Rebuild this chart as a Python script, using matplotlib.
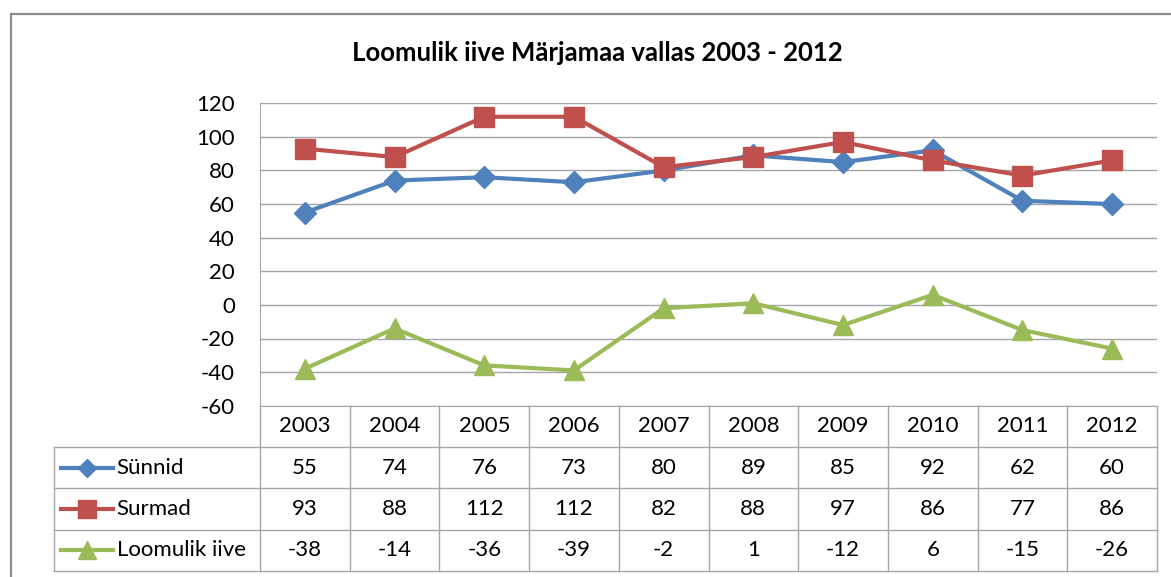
import matplotlib.pyplot as plt
from matplotlib.patches import Rectangle

# andmed
years = ['2003', '2004', '2005', '2006', '2007', '2008', '2009', '2010', '2011', '2012']
synnid = [55, 74, 76, 73, 80, 89, 85, 92, 62, 60]
surmad = [93, 88, 112, 112, 82, 88, 97, 86, 77, 86]
iive = [-38, -14, -36, -39, -2, 1, -12, 6, -15, -26]
names = ['Sünnid', 'Surmad', 'Loomulik iive']
y_ticks = [-60, -40, -20, 0, 20, 40, 60, 80, 100, 120]

colors = ['#4f81bd', '#c0504d', '#9bbb59']
markers = ['D', 's', '^']
msizes = [11, 14, 14]
series = [synnid, surmad, iive]

plt.rcParams['font.family'] = ['Lato', 'DejaVu Sans']
plt.rcParams['axes.unicode_minus'] = False
grid_c = '#a6a6a6'
W, H = 1171, 577

def fx(px):
    return px / W

def fy(py):
    return 1 - py / H

fig = plt.figure(figsize=(W / 100, H / 100), dpi=100)

# raam ümber diagrammi
fig.add_artist(Rectangle((fx(11), -0.2), 1.2, fy(14) + 0.2, transform=fig.transFigure,
                         fill=False, ec='#8c8c8c', lw=1.6))

fig.text(fx(597), fy(53), 'Loomulik iive Märjamaa vallas 2003 - 2012',
         ha='center', va='center', fontsize=18.5, fontweight='bold')

left, right = 260, 1157
ax = fig.add_axes([fx(left), fy(405.7), fx(right) - fx(left), fy(103.3) - fy(405.7)])
x = list(range(len(years)))
for vals, c, m, ms in zip(series, colors, markers, msizes):
    ax.plot(x, vals, color=c, lw=3, marker=m, ms=ms, mfc=c, mec=c, clip_on=False, zorder=3)
ax.set_xlim(-0.5, len(years) - 0.5)
ax.set_ylim(-60, 120)
ax.set_yticks(y_ticks)
ax.set_xticks([])
ax.grid(axis='y', color=grid_c, lw=1)
ax.set_axisbelow(True)
for s in ['top', 'right']:
    ax.spines[s].set_visible(False)
ax.spines['left'].set_color(grid_c)
ax.spines['bottom'].set_color(grid_c)
ax.tick_params(axis='y', length=0, pad=18, labelsize=16)

# andmetabel
tab = fig.add_axes([fx(left), fy(571), fx(right) - fx(left), fy(405.7) - fy(571)])
tab.set_xlim(-0.5, len(years) - 0.5)
tab.set_ylim(4, 0)
tab.axis('off')
col_w = (right - left) / len(years)
leg_left = -0.5 - (left - 54) / col_w

lk = dict(color=grid_c, lw=1, clip_on=False)
for r in range(1, 5):
    tab.plot([leg_left, len(years) - 0.5], [r, r], **lk)
for i in range(len(years) + 1):
    tab.plot([i - 0.5, i - 0.5], [0, 4], **lk)
tab.plot([leg_left, leg_left], [1, 4], **lk)

for i, yr in enumerate(years):
    tab.text(i, 0.5, yr, ha='center', va='center', fontsize=16)
for r, vals in enumerate(series):
    for i, v in enumerate(vals):
        tab.text(i, r + 1.5, str(v), ha='center', va='center', fontsize=16)

# legendi võtmed
l0 = -0.5 - (left - 60.7) / col_w
l1 = -0.5 - (left - 113) / col_w
lm = -0.5 - (left - 86.7) / col_w
lt = -0.5 - (left - 116.7) / col_w
for r, (nm, c, m, ms) in enumerate(zip(names, colors, markers, msizes)):
    yy = r + 1.5
    tab.plot([l0, l1], [yy, yy], color=c, lw=3, clip_on=False)
    tab.plot([lm], [yy], marker=m, ms=ms - 1.5, color=c, clip_on=False)
    tab.text(lt, yy, nm, ha='left', va='center', fontsize=16)

fig.savefig('out.png', dpi=100)
